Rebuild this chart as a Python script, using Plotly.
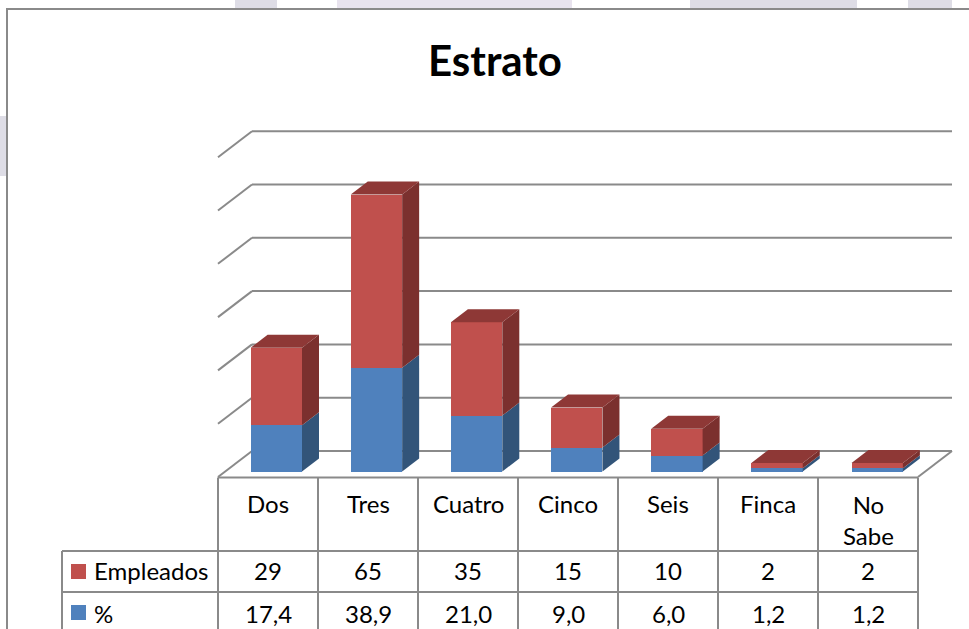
import plotly.graph_objects as go

categories = ["Dos", "Tres", "Cuatro", "Cinco", "Seis", "Finca", "No<br>Sabe"]
empleados = [29, 65, 35, 15, 10, 2, 2]
porcentaje = [17.4, 38.9, 21.0, 9.0, 6.0, 1.2, 1.2]
pct_labels = ["17,4", "38,9", "21,0", "9,0", "6,0", "1,2", "1,2"]
y_ticks = [0, 20, 40, 60, 80, 100, 120]

W, H = 969, 629
GREY = "#8A8A8A"
BLUE, BLUE_SIDE = "#4F81BD", "#325479"
RED, RED_SIDE, RED_TOP = "#C0504D", "#7B302E", "#8E3836"
FONT = "Lato"

# the plot fills the page, so these two turn pixels into axis units
CAT_PX = 100.15
VAL_PX = 2.665
X0_PX = 276.3
Y0_PX = 471.5
BAR_W = 51.4 / CAT_PX
DX = 17 / CAT_PX
DY = 13 / VAL_PX


def xval(px):
    return (px - X0_PX) / CAT_PX


def yval(py):
    return (Y0_PX - py) / VAL_PX


def xp(px):
    return px / W


def yp(py):
    return 1 - py / H


def line(x0, y0, x1, y1, width=2, color=GREY, layer="above"):
    return dict(type="line", xref="paper", yref="paper", x0=xp(x0), y0=yp(y0), x1=xp(x1), y1=yp(y1),
                line=dict(color=color, width=width), layer=layer)


def side_face(i, low, high, color, name):
    right = i + BAR_W / 2
    return go.Scatter(x=[right, right + DX, right + DX, right, right], y=[low, low + DY, high + DY, high, low],
                      mode="lines", fill="toself", fillcolor=color, line=dict(width=0), hoverinfo="skip",
                      showlegend=False, name=name)


def top_face(i, top, color):
    left, right = i - BAR_W / 2, i + BAR_W / 2
    return go.Scatter(x=[left, right, right + DX, left + DX, left], y=[top, top, top + DY, top + DY, top],
                      mode="lines", fill="toself", fillcolor=color, line=dict(width=0), hoverinfo="skip",
                      showlegend=False)


fig = go.Figure()
fig.add_trace(go.Bar(x=list(range(7)), y=porcentaje, name="%", marker=dict(color=BLUE, line=dict(width=0)), width=BAR_W))
fig.add_trace(go.Bar(x=list(range(7)), y=empleados, name="Empleados", marker=dict(color=RED, line=dict(width=0)), width=BAR_W))

for i in range(7):
    total = porcentaje[i] + empleados[i]
    fig.add_trace(side_face(i, 0, porcentaje[i], BLUE_SIDE, "%"))
    fig.add_trace(side_face(i, porcentaje[i], total, RED_SIDE, "Empleados"))
    fig.add_trace(top_face(i, total, RED_TOP))

shapes = []

# watermark behind the pasted chart
for x0, x1, y0, y1, color in [(235, 277, 0, 9, "#DEDDE6"), (337, 572, 0, 9, "#E8E3EE"), (690, 857, 0, 9, "#DEDDE6"),
                              (908, 952, 0, 9, "#DEDDE6"), (0, 7, 116, 176, "#DEDDE6")]:
    shapes.append(dict(type="rect", xref="paper", yref="paper", x0=xp(x0), x1=xp(x1), y0=yp(y0), y1=yp(y1),
                       fillcolor=color, line=dict(width=0), layer="below"))

# white chart area and its frame
shapes.append(dict(type="rect", xref="paper", yref="paper", x0=xp(7), x1=xp(W + 5), y0=yp(9), y1=yp(H + 5),
                   fillcolor="white", line=dict(color=GREY, width=2), layer="below"))

# back wall and left wall lines
for v in y_ticks:
    dv = v * VAL_PX
    shapes.append(line(218, 477 - dv, 252, 451 - dv, layer="below"))
    shapes.append(line(252, 451 - dv, 952, 451 - dv, layer="below"))
shapes.append(line(918, 477, 952, 451, layer="below"))

# data table
col_x = [218 + 100 * i for i in range(8)]
for x in col_x:
    shapes.append(line(x, 477.5, x, H + 2))
shapes.append(line(218, 477.5, 918, 477.5))
shapes.append(line(62, 551, 918, 551))
shapes.append(line(62, 592, 918, 592))
shapes.append(line(62, 551, 62, H + 2))

# legend keys
for y0, color in [(564, RED), (605, BLUE)]:
    shapes.append(dict(type="rect", xref="paper", yref="paper", x0=xp(71), x1=xp(86), y0=yp(y0), y1=yp(y0 + 15),
                       fillcolor=color, line=dict(width=0)))

annotations = [dict(text="<b>Estrato</b>", x=xp(495), y=yp(60), font=dict(size=42, color="black", family=FONT))]
for i, cat in enumerate(categories):
    cx = col_x[i] + 50
    yc = 503 if "<br>" not in cat else 520
    annotations.append(dict(text=cat, x=xp(cx), y=yp(yc), font=dict(size=24, color="black", family=FONT)))
    annotations.append(dict(text=str(empleados[i]), x=xp(cx), y=yp(570), font=dict(size=24, color="black", family=FONT)))
    annotations.append(dict(text=pct_labels[i], x=xp(cx), y=yp(613), font=dict(size=24, color="black", family=FONT)))
for label, yc in [("Empleados", 570), ("%", 613)]:
    annotations.append(dict(text=label, x=xp(92), y=yp(yc), xanchor="left", font=dict(size=24, color="black", family=FONT)))
for a in annotations:
    a.update(xref="paper", yref="paper", showarrow=False, yanchor="middle", xanchor=a.get("xanchor", "center"))

fig.update_layout(
    barmode="stack",
    width=W,
    height=H,
    margin=dict(l=0, r=0, t=0, b=0),
    paper_bgcolor="white",
    plot_bgcolor="rgba(0,0,0,0)",
    showlegend=False,
    shapes=shapes,
    annotations=annotations,
    xaxis=dict(range=[xval(0), xval(W)], visible=False),
    yaxis=dict(range=[yval(H), yval(0)], visible=False),
)

fig.write_html("out.html", config=dict(displayModeBar=False),
               post_script="document.body.style.margin='0';document.body.style.overflow='hidden';")
